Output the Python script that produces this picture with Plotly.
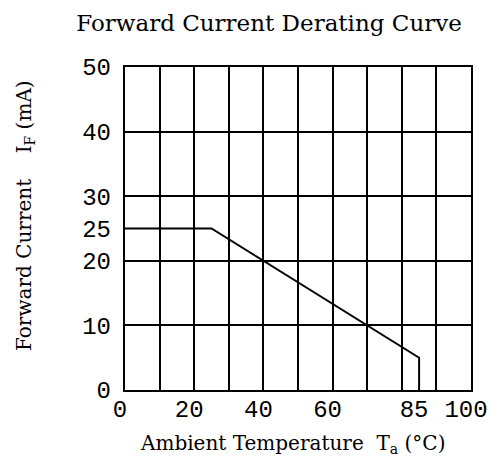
import plotly.graph_objects as go

# Data
temperature = [0, 25, 85, 85]
current = [25, 25, 5, 0]

x_grid = [0, 10, 20, 30, 40, 50, 60, 70, 80, 90, 100]
y_grid = [0, 10, 20, 30, 40, 50]
x_tickvals = [0, 20, 40, 60, 85, 100]
x_ticktext = ["0", "20", "40", "60", "85", "100"]
y_tickvals = [0, 10, 20, 25, 30, 40, 50]
y_ticktext = ["0", "10", "20", "25", "30", "40", "50"]

title_text = "Forward Current Derating Curve"
x_title = "Ambient Temperature  T<sub>a</sub> (°C)"
y_title = "Forward Current    I<sub>F</sub> (mA)"

tick_font = dict(family="Liberation Mono", size=24, color="black")
serif = "DejaVu Serif"

fig = go.Figure()
fig.add_trace(go.Scatter(x=temperature, y=current, mode="lines",
                         line=dict(color="black", width=2),
                         hoverinfo="skip", showlegend=False))
fig.add_trace(go.Scatter(x=temperature, y=current, mode="lines",
                         line=dict(color="rgba(0,0,0,0)", width=0),
                         xaxis="x2", yaxis="y2",
                         hoverinfo="skip", showlegend=False))

fig.update_layout(
    width=501, height=461,
    margin=dict(l=125, r=30, t=67, b=71),
    paper_bgcolor="white", plot_bgcolor="white",
    title=dict(text=title_text, x=0.537, xanchor="center", y=1 - 23 / 461,
               yanchor="middle", xref="container", yref="container",
               font=dict(family=serif, size=23, color="black")),
    xaxis=dict(range=[0, 100], tickmode="array", tickvals=x_grid,
               showticklabels=False, ticks="", showgrid=True,
               gridcolor="black", gridwidth=2, zeroline=False,
               showline=True, linecolor="black", linewidth=2, mirror=True),
    yaxis=dict(range=[0, 50], tickmode="array", tickvals=y_grid,
               showticklabels=False, ticks="", showgrid=True,
               gridcolor="black", gridwidth=2, zeroline=False,
               showline=True, linecolor="black", linewidth=2, mirror=True),
    xaxis2=dict(range=[0, 100], overlaying="x", anchor="y2", side="bottom",
                tickmode="array", tickvals=x_tickvals, ticktext=x_ticktext,
                ticks="", showgrid=False, zeroline=False, showline=False,
                tickfont=tick_font, ticklabelshift=-5, ticklabelstandoff=2),
    yaxis2=dict(range=[0, 50], overlaying="y", anchor="x2", side="left",
                tickmode="array", tickvals=y_tickvals, ticktext=y_ticktext,
                ticks="", showgrid=False, zeroline=False, showline=False,
                tickfont=tick_font, ticklabelstandoff=13),
    annotations=[
        dict(text=x_title, xref="paper", yref="paper", x=(292 - 125) / 346,
             y=-(444 - 390) / 323, xanchor="center", yanchor="middle",
             showarrow=False, font=dict(family=serif, size=20, color="black")),
        dict(text=y_title, xref="paper", yref="paper", x=-(125 - 25) / 346,
             y=(390 - 215) / 323, xanchor="center", yanchor="middle",
             textangle=-90, showarrow=False,
             font=dict(family=serif, size=20, color="black")),
    ],
)

fig.write_html("out.html", config={"displayModeBar": False},
               post_script="document.body.style.margin='0';document.body.style.padding='0';")
